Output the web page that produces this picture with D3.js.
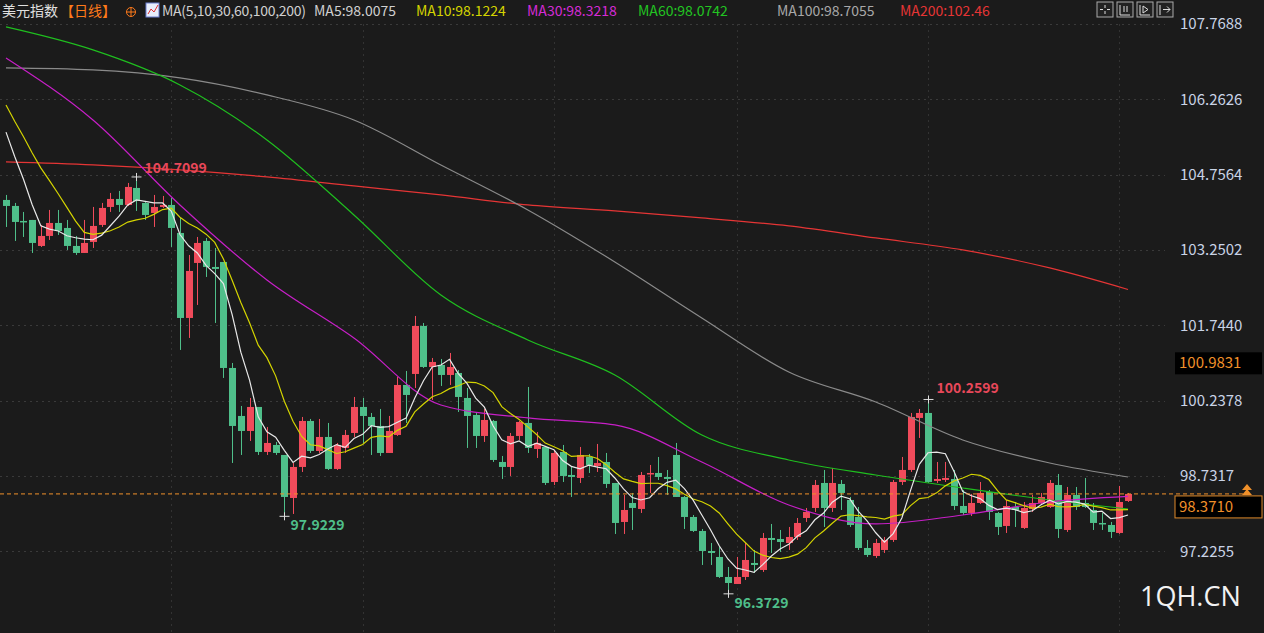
<!DOCTYPE html>
<html>
<head>
<meta charset="utf-8">
<script src="https://cdn.jsdelivr.net/npm/d3@7"></script>
<style>
  html, body { margin: 0; padding: 0; background: #1b1b1b; overflow: hidden; }
  svg { display: block; }
</style>
</head>
<body>
<svg id="chart" width="1264" height="633"></svg>
<script>
/* --- データ --- */
// [open, close, high, low]
const candles = [
[104.25,104.13,104.35,103.71],[104.13,103.81,104.19,103.43],[103.83,103.81,104.01,103.51],[103.85,103.39,103.85,103.19],
[103.33,103.53,103.75,103.31],[103.53,103.79,104.05,103.45],[103.79,103.63,104.05,103.55],[103.69,103.33,103.85,103.25],
[103.33,103.19,103.53,103.15],[103.19,103.39,103.85,103.19],[103.41,103.73,104.11,103.29],[103.75,104.09,104.19,103.71],
[104.11,104.27,104.39,104.01],[104.27,104.15,104.43,104.01],[104.15,104.51,104.59,104.13],[104.49,104.23,104.71,104.03],
[104.19,103.95,104.23,103.85],[103.99,104.11,104.35,103.71],[104.11,104.15,104.33,104.09],[104.15,103.69,104.29,103.31],
[103.59,101.89,103.89,101.25],[101.89,102.83,103.15,101.49],[102.99,103.39,103.51,102.15],[103.43,102.91,103.49,102.71],
[102.91,102.87,103.29,101.79],[103.01,100.89,103.01,100.69],[100.89,99.73,100.99,98.99],[99.93,99.63,100.13,99.15],
[99.63,100.11,100.29,99.43],[100.11,99.21,100.11,99.15],[99.21,99.39,99.71,99.15],[99.35,99.19,99.41,99.15],
[99.15,98.31,99.15,97.92],[98.29,98.91,98.99,97.97],[98.91,99.83,99.91,98.81],[99.83,99.23,99.87,99.19],
[99.23,99.51,99.87,99.19],[99.51,98.87,99.79,98.85],[98.87,99.35,99.39,98.85],[99.29,99.55,99.65,99.19],
[99.59,100.11,100.31,99.51],[100.11,99.93,100.29,99.39],[99.91,99.73,99.99,99.15],[99.73,99.19,100.07,99.13],
[99.19,99.63,99.93,99.19],[99.55,100.55,100.71,99.53],[100.55,100.35,100.83,99.79],[100.77,101.73,101.93,100.49],
[101.73,100.91,101.79,100.89],[100.91,101.01,101.09,100.25],[100.95,100.75,101.07,100.53],[100.75,100.91,101.19,100.55],
[100.79,100.31,100.85,100.01],[100.29,99.93,100.49,99.29],[99.95,99.53,99.99,99.29],[99.53,99.85,100.07,99.41],
[99.83,99.05,99.85,99.01],[99.01,98.91,99.13,98.67],[98.91,99.53,99.59,98.73],[99.53,99.81,99.83,99.45],
[99.79,99.29,100.51,99.19],[99.27,99.39,99.61,99.09],[99.31,98.59,99.33,98.55],[98.61,99.19,99.25,98.55],
[99.21,98.73,99.35,98.61],[98.75,98.71,98.91,98.31],[98.69,99.15,99.31,98.59],[99.11,98.95,99.17,98.79],
[98.93,98.99,99.37,98.81],[99.01,98.57,99.19,98.49],[98.59,97.79,98.59,97.57],[97.81,98.05,98.35,97.57],
[98.19,98.09,98.39,97.65],[98.07,98.75,98.81,97.99],[98.77,98.79,98.95,98.39],[98.79,98.71,99.11,98.65],
[98.71,98.67,98.85,98.35],[99.15,98.31,99.39,98.31],[98.31,97.91,98.33,97.67],[97.91,97.63,97.95,97.61],
[97.63,97.23,97.67,96.95],[97.23,97.19,97.39,96.95],[97.11,96.71,97.31,96.69],[96.71,96.59,96.91,96.37],
[96.57,96.71,97.11,96.57],[96.71,97.05,97.39,96.65],[96.99,96.95,97.25,96.79],[96.85,97.49,97.59,96.81],
[97.49,97.45,97.77,97.19],[97.47,97.41,97.65,97.21],[97.39,97.51,97.71,97.25],[97.51,97.79,97.89,97.45],
[97.89,98.01,98.09,97.81],[98.09,98.55,98.65,98.01],[98.59,98.09,98.85,97.71],[98.09,98.59,98.89,98.01],
[98.57,98.39,98.65,98.05],[98.25,97.75,98.31,97.71],[97.91,97.29,98.11,97.25],[97.29,97.15,97.45,97.11],
[97.13,97.39,97.47,97.09],[97.25,97.45,97.51,97.19],[97.45,98.61,98.65,97.41],[98.61,98.85,99.11,98.55],
[98.85,99.91,99.99,98.81],[99.89,99.99,100.07,99.49],[99.99,98.61,100.26,98.59],[98.63,98.67,99.01,98.59],
[98.65,98.69,99.01,98.61],[98.67,98.13,98.85,98.05],[98.13,97.99,98.45,97.95],[97.99,98.19,98.37,97.93],
[98.19,98.39,98.61,98.17],[98.41,98.01,98.45,97.85],[97.99,97.71,98.01,97.55],[97.73,98.13,98.25,97.59],
[98.11,98.05,98.21,97.71],[97.69,98.09,98.21,97.67],[98.07,98.19,98.35,98.01],[98.19,98.31,98.39,98.15],
[98.11,98.59,98.65,98.09],[98.55,97.67,98.77,97.49],[97.65,98.35,98.51,97.61],[98.35,98.11,98.51,98.05],
[98.19,98.11,98.69,98.09],[98.05,97.79,98.19,97.65],[97.79,97.77,97.99,97.65],[97.75,97.61,97.81,97.49],
[97.59,98.21,98.53,97.57],[98.23,98.37,98.39,98.21]
];

// 表示範囲より前の終値（MA5/MA10用）
const priorCloses = [107.05,106.85,106.65,106.55,106.35,106.25,106.05,105.95,105.65];

// 長期MAの読み取り値（インデックス位置ごと）
const maIdx   = [0,10,20,30,40,50,60,70,80,90,100,110,120,129];
const ma30v   = [107.09,105.85,104.15,102.65,101.49,100.15,99.89,99.75,99.01,98.15,97.77,97.95,98.21,98.32];
const ma60v   = [107.71,107.25,106.55,105.45,103.95,102.35,101.45,100.75,99.55,99.05,98.75,98.49,98.25,98.07];
const ma100v  = [106.89,106.85,106.69,106.35,105.85,104.95,104.05,103.01,101.89,100.81,100.21,99.45,98.99,98.71];
const ma200v  = [105.01,104.95,104.85,104.71,104.53,104.35,104.15,104.03,103.89,103.73,103.49,103.25,102.89,102.46];

const yTicks = [107.7688,106.2626,104.7564,103.2502,101.7440,100.2378,98.7317,97.2255];
const vGrid = [19,41,63,84,106,128];
const lastPrice = 98.3710;
const markPrice = 100.9831;

const headerItems = [
  {text: "美元指数", color: "#e0e0e0", x: 2},
  {text: "【日线】", color: "#ff7a1a", x: 60},
  {text: "MA(5,10,30,60,100,200)", color: "#d0d0d0", x: 162},
  {text: "MA5:98.0075", color: "#d0d0d0", x: 314},
  {text: "MA10:98.1224", color: "#d4d400", x: 416},
  {text: "MA30:98.3218", color: "#d52bd5", x: 527},
  {text: "MA60:98.0742", color: "#22c422", x: 638},
  {text: "MA100:98.7055", color: "#a8a8a8", x: 777},
  {text: "MA200:102.46", color: "#e53535", x: 900}
];

const peaks = [
  {i: 15, v: 104.7099, label: "104.7099", color: "#e8485a", dx: 8, dy: -4},
  {i: 32, v: 97.9229, label: "97.9229", color: "#4fbf8a", dx: 6, dy: 14},
  {i: 83, v: 96.3729, label: "96.3729", color: "#4fbf8a", dx: 6, dy: 14},
  {i: 106, v: 100.2599, label: "100.2599", color: "#e8485a", dx: 8, dy: -6}
];

/* --- スケール --- */
const svg = d3.select("#chart");
const x = d3.scaleLinear().domain([0, candles.length - 1]).range([6, 1128]);
const y = d3.scaleLinear().domain([97.2255, 107.7688]).range([551.2, 24]);
const up = "#f04b5b", down = "#4fbf8a";
const font = "'Noto Sans CJK SC', 'Noto Sans', sans-serif";

/* --- グリッド --- */
svg.append("g").selectAll("line.h").data(yTicks).enter().append("line")
  .attr("x1", 0).attr("x2", 1165)
  .attr("y1", d => Math.round(y(d)) + 0.5).attr("y2", d => Math.round(y(d)) + 0.5)
  .attr("stroke", "#3a3a3a").attr("stroke-dasharray", "2,4");
svg.append("g").selectAll("line.v").data(vGrid).enter().append("line")
  .attr("x1", d => Math.round(x(d)) + 0.5).attr("x2", d => Math.round(x(d)) + 0.5)
  .attr("y1", 24).attr("y2", 633)
  .attr("stroke", "#333").attr("stroke-dasharray", "2,4");

/* --- ローソク足 --- */
const cg = svg.append("g").selectAll("g").data(candles).enter().append("g");
cg.append("line")
  .attr("x1", (d, i) => Math.round(x(i)) + 0.5).attr("x2", (d, i) => Math.round(x(i)) + 0.5)
  .attr("y1", d => y(d[2])).attr("y2", d => y(d[3]))
  .attr("stroke", d => d[1] >= d[0] ? up : down);
cg.append("rect")
  .attr("x", (d, i) => Math.round(x(i)) - 3)
  .attr("y", d => y(Math.max(d[0], d[1])))
  .attr("width", 7)
  .attr("height", d => Math.max(1.5, Math.abs(y(d[0]) - y(d[1]))))
  .attr("fill", d => d[1] >= d[0] ? up : down);

/* --- 移動平均 --- */
const closes = priorCloses.concat(candles.map(d => d[1]));
function sma(n) {
  return candles.map((d, i) => {
    const end = i + priorCloses.length;
    return d3.mean(closes.slice(end - n + 1, end + 1));
  });
}
const line = d3.line().x(d => x(d[0])).y(d => y(d[1])).curve(d3.curveMonotoneX);
const longMAs = [[ma200v, "#e53535"], [ma100v, "#8a8a8a"], [ma60v, "#1fbf1f"], [ma30v, "#c71fc7"]];
longMAs.forEach(([vals, c]) => {
  svg.append("path").datum(maIdx.map((k, j) => [k, vals[j]]))
    .attr("d", line).attr("fill", "none").attr("stroke", c).attr("stroke-width", 1.2);
});
[[sma(10), "#d4d400"], [sma(5), "#e8e8e8"]].forEach(([vals, c]) => {
  svg.append("path").datum(vals.map((v, i) => [i, v]))
    .attr("d", d3.line().x(d => x(d[0])).y(d => y(d[1])))
    .attr("fill", "none").attr("stroke", c).attr("stroke-width", 1.2);
});

/* --- ヘッダー背景 --- */
svg.append("rect").attr("x", 0).attr("y", 0).attr("width", 1264).attr("height", 21).attr("fill", "#1b1b1b");

/* --- 軸 --- */
const axis = d3.axisRight(y).tickValues(yTicks).tickSize(0).tickPadding(0)
  .tickFormat(d => d.toFixed(4));
const ag = svg.append("g").attr("transform", "translate(1180,0)").call(axis);
ag.select(".domain").remove();
ag.selectAll("text").attr("fill", "#c9d3e6").style("font-family", font).style("font-size", "15px");

/* --- 最新値ライン --- */
svg.append("line").attr("x1", 0).attr("x2", 1250)
  .attr("y1", y(lastPrice)).attr("y2", y(lastPrice))
  .attr("stroke", "#f0902a").attr("stroke-dasharray", "4,3");
svg.append("rect").attr("x", 1175).attr("y", y(lastPrice) + 2).attr("width", 87).attr("height", 22)
  .attr("fill", "#000").attr("stroke", "#e08a2a");
svg.append("text").attr("x", 1179).attr("y", y(lastPrice) + 18).text(lastPrice.toFixed(4))
  .attr("fill", "#f0902a").style("font-family", font).style("font-size", "15px");
svg.append("path").attr("d", `M1247,${y(lastPrice) - 10} l5,6 h-10 z M1247,${y(lastPrice) - 5} l5,6 h-10 z`)
  .attr("fill", "#f0902a");
svg.append("rect").attr("x", 1175).attr("y", y(markPrice) - 11).attr("width", 87).attr("height", 22)
  .attr("fill", "#000");
svg.append("text").attr("x", 1179).attr("y", y(markPrice) + 5).text(markPrice.toFixed(4))
  .attr("fill", "#f0902a").style("font-family", font).style("font-size", "15px");

/* --- 高値・安値ラベル --- */
peaks.forEach(p => {
  const px = Math.round(x(p.i)) + 0.5, py = y(p.v);
  svg.append("path").attr("d", `M${px - 5},${py} h10 M${px},${py - 4} v8`).attr("stroke", "#ddd");
  svg.append("text").attr("x", px + p.dx).attr("y", py + p.dy).text(p.label)
    .attr("fill", p.color).style("font-family", font).style("font-size", "14px").style("font-weight", "bold");
});

/* --- ヘッダー --- */
headerItems.forEach((h, k) => {
  svg.append("text").attr("x", h.x).attr("y", 16).text(h.text)
    .attr("fill", h.color).style("font-family", font).style("font-size", "14px")
    .attr("textLength", k === 2 ? 144 : null);
});
svg.append("circle").attr("cx", 131).attr("cy", 12).attr("r", 4.5).attr("fill", "none").attr("stroke", "#ff7a1a");
svg.append("path").attr("d", "M126.5,12 h9 M131,7.5 v9").attr("stroke", "#ff7a1a");
svg.append("rect").attr("x", 146).attr("y", 3).attr("width", 13).attr("height", 14).attr("fill", "#e8eefc").attr("stroke", "#6a7fd0");
svg.append("path").attr("d", "M148,14 l3,-5 l3,3 l4,-7").attr("fill", "none").attr("stroke", "#e03030");

// 右上のツールボタン
[1097, 1117, 1137, 1157].forEach(bx => {
  svg.append("rect").attr("x", bx).attr("y", 2).attr("width", 16).attr("height", 15)
    .attr("fill", "#222").attr("stroke", "#aaa");
});
svg.append("path").attr("d", "M1105,5 v3 M1105,11 v3 M1100,9.5 h3 M1107,9.5 h3 M1120,5 v10 h10 M1124,6 v6 M1127,6 v6 M1140,5 v10 h10 M1143,6 l5,3.5 l-5,3.5 z M1160,5 v10 M1163,9.5 h7 l-3,-3 M1170,9.5 l-3,3")
  .attr("stroke", "#ddd").attr("fill", "none");

/* --- ウォーターマーク --- */
svg.append("text").attr("x", 1140).attr("y", 606).text("1QH.CN")
  .attr("fill", "#f2f2f2").style("font-family", "'Open Sans', sans-serif").style("font-size", "27px");
</script>
</body>
</html>
